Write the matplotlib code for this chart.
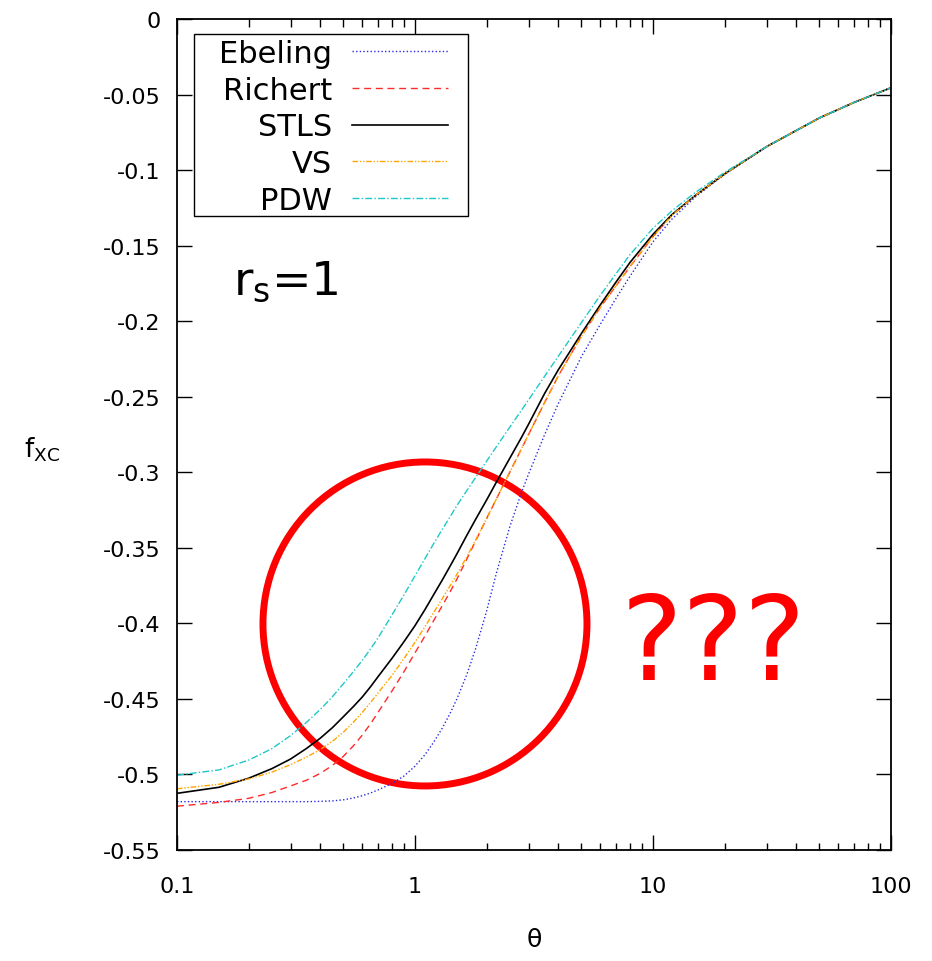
import matplotlib
matplotlib.use("Agg")
import matplotlib.pyplot as plt
from matplotlib.patches import Ellipse, Rectangle
from matplotlib.ticker import FixedLocator, FuncFormatter, LogLocator, NullFormatter

plt.rcParams['font.family'] = ['DejaVu Sans']
plt.rcParams['axes.unicode_minus'] = False

theta = [0.1, 0.15, 0.2, 0.25, 0.3, 0.35, 0.4, 0.45, 0.5, 0.55, 0.6, 0.65, 0.7, 0.8,
         0.9, 1.0, 1.1, 1.2, 1.3, 1.4, 1.5, 1.65, 1.8, 2.0, 2.2, 2.5, 2.8, 3.0, 3.5,
         4.0, 5.0, 6.0, 7.0, 8.0, 10, 12, 15, 20, 30, 40, 50, 70, 100]

ebeling = [-0.5180, -0.5180, -0.5180, -0.5180, -0.5180, -0.5180, -0.5178, -0.5175,
           -0.5168, -0.5156, -0.5141, -0.5123, -0.5102, -0.5060, -0.5010, -0.4945,
           -0.4870, -0.4785, -0.4695, -0.4600, -0.4500, -0.4340, -0.4165, -0.3918,
           -0.3665, -0.3362, -0.3135, -0.3012, -0.2753, -0.2546, -0.2235, -0.2022,
           -0.1848, -0.1703, -0.1475, -0.1325, -0.1180, -0.1028, -0.0845, -0.0738,
           -0.0655, -0.0552, -0.0455]
richert = [-0.5210, -0.5185, -0.5158, -0.5120, -0.5076, -0.5038, -0.4993, -0.4940,
           -0.4880, -0.4812, -0.4740, -0.4665, -0.4588, -0.4448, -0.4318, -0.4195,
           -0.4085, -0.3980, -0.3885, -0.3795, -0.3707, -0.3575, -0.3453, -0.3306,
           -0.3175, -0.3000, -0.2845, -0.2750, -0.2540, -0.2362, -0.2100, -0.1910,
           -0.1765, -0.1640, -0.1440, -0.1300, -0.1170, -0.1025, -0.0845, -0.0738,
           -0.0655, -0.0552, -0.0455]
stls = [-0.5125, -0.5085, -0.5025, -0.4962, -0.4898, -0.4828, -0.4760, -0.4690,
        -0.4618, -0.4552, -0.4488, -0.4420, -0.4352, -0.4232, -0.4120, -0.4015,
        -0.3910, -0.3808, -0.3715, -0.3625, -0.3540, -0.3418, -0.3310, -0.3183,
        -0.3064, -0.2908, -0.2770, -0.2682, -0.2480, -0.2322, -0.2082, -0.1893,
        -0.1740, -0.1612, -0.1425, -0.1295, -0.1170, -0.1025, -0.0845, -0.0738,
        -0.0655, -0.0552, -0.0455]
vs = [-0.5095, -0.5065, -0.5030, -0.4985, -0.4935, -0.4885, -0.4835, -0.4780,
      -0.4720, -0.4655, -0.4590, -0.4525, -0.4460, -0.4345, -0.4232, -0.4125,
      -0.4023, -0.3927, -0.3838, -0.3755, -0.3675, -0.3560, -0.3447, -0.3305,
      -0.3175, -0.3000, -0.2845, -0.2750, -0.2540, -0.2362, -0.2100, -0.1910,
      -0.1765, -0.1640, -0.1440, -0.1300, -0.1170, -0.1025, -0.0845, -0.0738,
      -0.0655, -0.0552, -0.0455]
pdw = [-0.5005, -0.4970, -0.4905, -0.4830, -0.4743, -0.4655, -0.4570, -0.4485,
       -0.4400, -0.4321, -0.4245, -0.4170, -0.4095, -0.3945, -0.3810, -0.3685,
       -0.3573, -0.3470, -0.3380, -0.3298, -0.3220, -0.3122, -0.3033, -0.2926,
       -0.2830, -0.2702, -0.2590, -0.2521, -0.2366, -0.2232, -0.2010, -0.1830,
       -0.1685, -0.1560, -0.1385, -0.1270, -0.1150, -0.1015, -0.0845, -0.0738,
       -0.0655, -0.0552, -0.0455]

series_names = ["Ebeling", "Richert", "STLS", "VS", "PDW"]
yticks = [0, -0.05, -0.1, -0.15, -0.2, -0.25, -0.3, -0.35, -0.4, -0.45, -0.5, -0.55]
xticks = [0.1, 1, 10, 100]

fig = plt.figure(figsize=(9.32, 9.62), dpi=100)
ax = fig.add_axes([177/932, 1-851/962, 714/932, 831/962])

ax.plot(theta, ebeling, color='#2a2ae6', lw=1.0, dashes=(1, 1.6), label=series_names[0])
ax.plot(theta, richert, color='#ff2a2a', lw=1.0, dashes=(5, 3.4), label=series_names[1])
ax.plot(theta, stls, color='black', lw=1.2, label=series_names[2])
ax.plot(theta, vs, color='#ffa500', lw=1.0, dashes=(4, 1.3, 1, 1.3, 1, 1.3), label=series_names[3])
ax.plot(theta, pdw, color='#1ec8c8', lw=1.0, dashes=(5, 1.6, 1, 1.6), label=series_names[4])

ax.set_xscale('log')
ax.set_xlim(0.1, 100)
ax.set_ylim(-0.55, 0)

ax.xaxis.set_major_locator(FixedLocator(xticks))
ax.xaxis.set_major_formatter(FuncFormatter(lambda v, p: '%g' % v))
ax.xaxis.set_minor_locator(LogLocator(base=10, subs=range(2, 10), numticks=20))
ax.xaxis.set_minor_formatter(NullFormatter())
ax.yaxis.set_major_locator(FixedLocator(yticks))
ax.yaxis.set_major_formatter(FuncFormatter(lambda v, p: '%g' % round(v, 3)))

ax.tick_params(which='both', direction='in', top=True, right=True, width=1.0, labelsize=16)
ax.tick_params(which='major', length=10.8)
ax.tick_params(which='minor', length=5.4)
ax.tick_params(axis='x', pad=19)
ax.tick_params(axis='y', pad=12)
for s in ax.spines.values():
    s.set_linewidth(1.3)

# legend frame (gnuplot style box)
ax.add_patch(Rectangle((0.0238, 0.7629), 0.3838, 0.219, transform=ax.transAxes,
                       facecolor='white', edgecolor='black', lw=1.0, zorder=4))
leg = ax.legend(loc='upper right', bbox_to_anchor=(0.3796, 0.9759), borderaxespad=0,
                markerfirst=False, fontsize=22, handlelength=3.14, handletextpad=0.65,
                labelspacing=0.25, borderpad=0, frameon=False)
leg.set_zorder(5)

ax.text(0.078, 0.670, r'r$_{\mathrm{s}}$=1', transform=ax.transAxes, fontsize=34,
        va='baseline', ha='left')

ax.add_patch(Ellipse((0.3473, 0.272), 324/714, 324/831, transform=ax.transAxes,
                     fill=False, edgecolor='red', lw=5.0))
ax.text(0.751, 0.2058, '???', transform=ax.transAxes, fontsize=84, color='red',
        ha='center', va='baseline')

fig.text(42/932, 1-450/962, r'f$_{\mathrm{XC}}$', fontsize=19, ha='center', va='center')
fig.text(534/932, 1-940/962, 'θ', fontsize=18, ha='center', va='center')

fig.savefig('out.png', dpi=100)
